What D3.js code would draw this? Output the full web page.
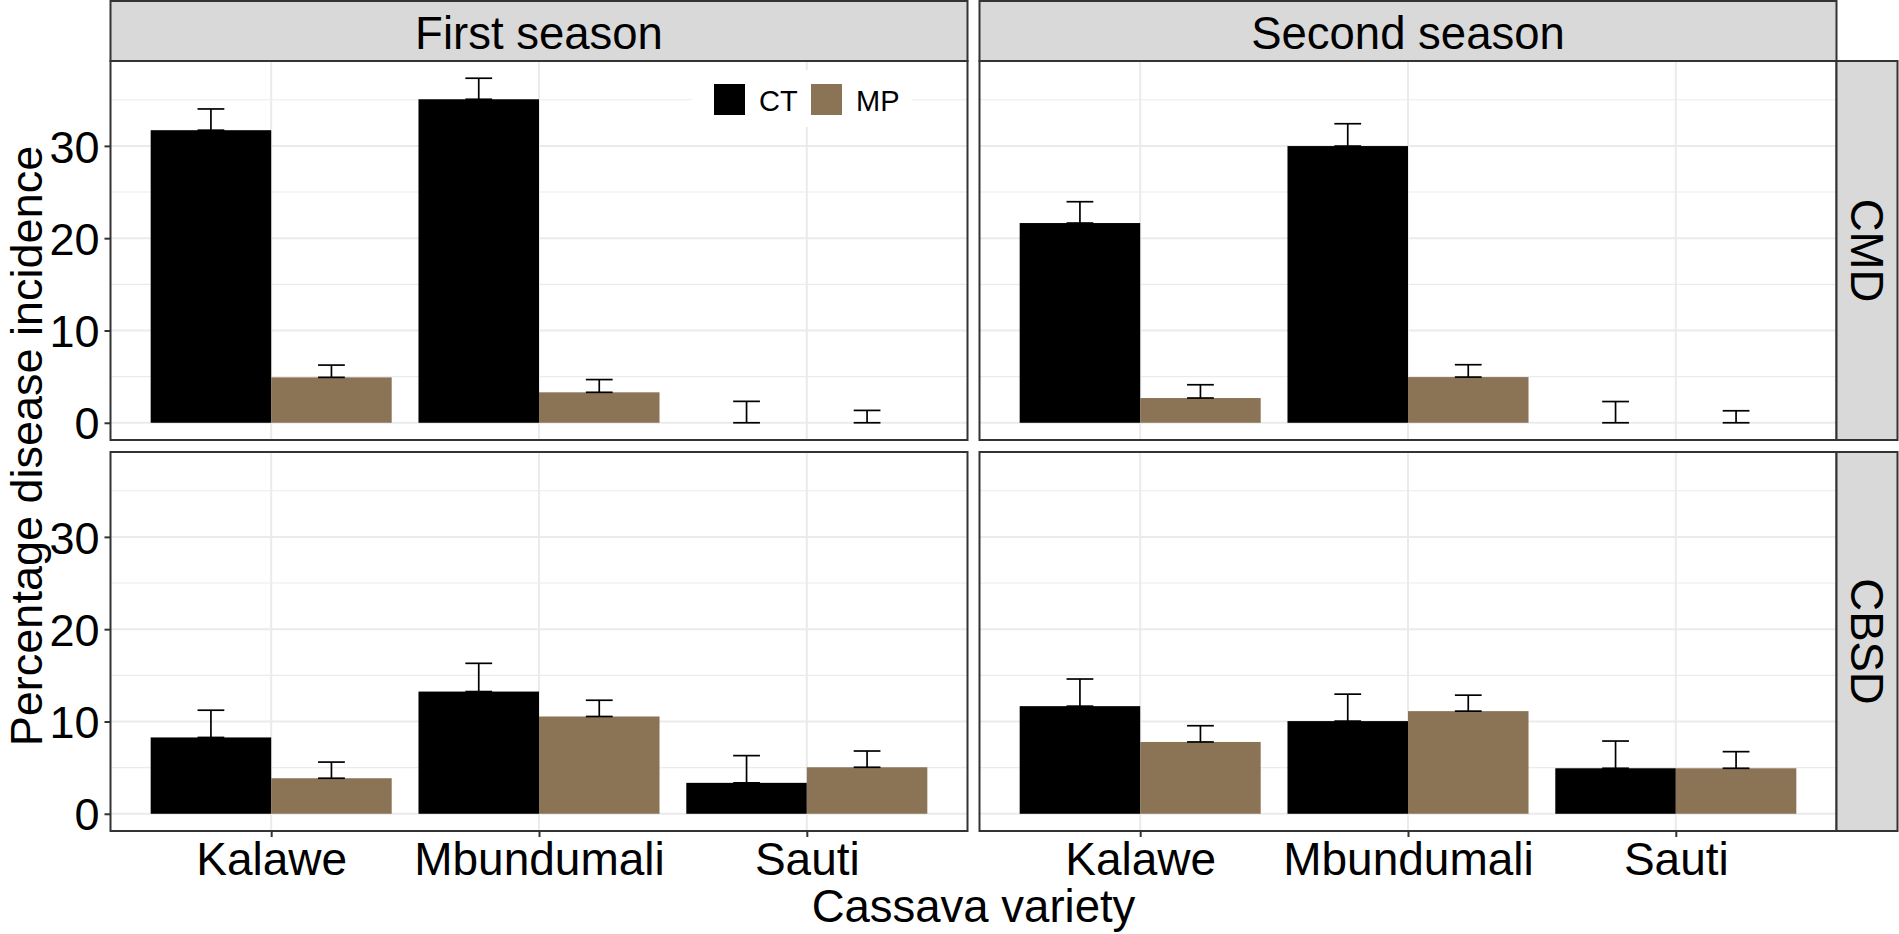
<!DOCTYPE html>
<html>
<head>
<meta charset="utf-8">
<script src="https://cdnjs.cloudflare.com/ajax/libs/d3/7.8.5/d3.min.js"></script>
<style>
    body { margin: 0; background: #ffffff; }
    text { font-family: "Liberation Sans", Arial, sans-serif; fill: #000000; }
</style>
</head>
<body>
<svg id="chart"></svg>
<script>
var varieties = ["Kalawe", "Mbundumali", "Sauti"];
var seasons = ["First season", "Second season"];
var diseases = ["CMD", "CBSD"];
var treatments = ["CT", "MP"];
var yTicks = [0, 10, 20, 30];
var yMinorTicks = [5, 15, 25, 35];

// mean incidence and standard error, one value per variety
var firstCmdCT = [31.7, 35.05, 0];
var firstCmdCTse = [2.3, 2.28, 2.32];
var firstCmdMP = [4.92, 3.3, 0];
var firstCmdMPse = [1.33, 1.38, 1.34];
var firstCbsdCT = [8.27, 13.24, 3.35];
var firstCbsdCTse = [2.95, 3.06, 2.95];
var firstCbsdMP = [3.85, 10.54, 5.04];
var firstCbsdMPse = [1.75, 1.76, 1.76];
var secondCmdCT = [21.64, 29.98, 0];
var secondCmdCTse = [2.31, 2.42, 2.3];
var secondCmdMP = [2.68, 4.95, 0];
var secondCmdMPse = [1.44, 1.34, 1.3];
var secondCbsdCT = [11.66, 10.04, 4.93];
var secondCbsdCTse = [2.94, 2.92, 2.95];
var secondCbsdMP = [7.78, 11.12, 4.93];
var secondCbsdMPse = [1.76, 1.73, 1.8];

var colors = d3.scaleOrdinal()
    .domain(treatments)
    .range(["#000000", "#8b7355"]);

var width = 1899,
    height = 934;

var colLeft = [110.5, 979.5],
    colRight = [967.5, 1836.5],
    rowTop = [61, 452],
    rowBottom = [440, 831];

function buildRows(season, disease, ct, ctse, mp, mpse) {
    var rows = [];
    varieties.forEach(function (v, i) {
        rows.push({ season: season, disease: disease, variety: v, treatment: "CT", mean: ct[i], se: ctse[i] });
        rows.push({ season: season, disease: disease, variety: v, treatment: "MP", mean: mp[i], se: mpse[i] });
    });
    return rows;
}

var panels = [
    { col: 0, row: 0, data: buildRows(seasons[0], diseases[0], firstCmdCT, firstCmdCTse, firstCmdMP, firstCmdMPse) },
    { col: 1, row: 0, data: buildRows(seasons[1], diseases[0], secondCmdCT, secondCmdCTse, secondCmdMP, secondCmdMPse) },
    { col: 0, row: 1, data: buildRows(seasons[0], diseases[1], firstCbsdCT, firstCbsdCTse, firstCbsdMP, firstCbsdMPse) },
    { col: 1, row: 1, data: buildRows(seasons[1], diseases[1], secondCbsdCT, secondCbsdCTse, secondCbsdMP, secondCbsdMPse) }
];

var allRows = [].concat.apply([], panels.map(function (p) { return p.data; }));
var yMax = d3.max(allRows, function (d) { return d.mean + d.se; });
var yPad = yMax * 0.05;

var svg = d3.select("svg#chart")
    .attr("width", width)
    .attr("height", height);

panels.forEach(function (p) {
    var x = d3.scalePoint()
        .domain(varieties)
        .range([colLeft[p.col], colRight[p.col]])
        .padding(0.6);
    var step = x.step();
    var dodge = d3.scaleBand()
        .domain(treatments)
        .range([-0.45 * step, 0.45 * step]);
    var y = d3.scaleLinear()
        .domain([-yPad, yMax + yPad])
        .range([rowBottom[p.row], rowTop[p.row]]);

    var g = svg.append("g");

    g.selectAll("line.minor")
        .data(yMinorTicks)
        .enter()
        .append("line")
        .attr("x1", colLeft[p.col])
        .attr("x2", colRight[p.col])
        .attr("y1", function (d) { return y(d); })
        .attr("y2", function (d) { return y(d); })
        .attr("stroke", "#ebebeb")
        .attr("stroke-width", 1.1);

    g.selectAll("line.major")
        .data(yTicks)
        .enter()
        .append("line")
        .attr("x1", colLeft[p.col])
        .attr("x2", colRight[p.col])
        .attr("y1", function (d) { return y(d); })
        .attr("y2", function (d) { return y(d); })
        .attr("stroke", "#ebebeb")
        .attr("stroke-width", 2);

    g.selectAll("line.vmajor")
        .data(varieties)
        .enter()
        .append("line")
        .attr("x1", function (d) { return x(d); })
        .attr("x2", function (d) { return x(d); })
        .attr("y1", rowTop[p.row])
        .attr("y2", rowBottom[p.row])
        .attr("stroke", "#ebebeb")
        .attr("stroke-width", 2);

    g.selectAll("rect.bar")
        .data(p.data)
        .enter()
        .append("rect")
        .attr("x", function (d) { return x(d.variety) + dodge(d.treatment); })
        .attr("width", dodge.bandwidth())
        .attr("y", function (d) { return y(d.mean); })
        .attr("height", function (d) { return y(0) - y(d.mean); })
        .attr("fill", function (d) { return colors(d.treatment); });

    var errW = 0.1 * step;
    var eb = g.selectAll("g.err")
        .data(p.data)
        .enter()
        .append("g")
        .attr("stroke", "#000000")
        .attr("stroke-width", 1.7);
    eb.append("line")
        .attr("x1", function (d) { return x(d.variety) + dodge(d.treatment) + dodge.bandwidth() / 2; })
        .attr("x2", function (d) { return x(d.variety) + dodge(d.treatment) + dodge.bandwidth() / 2; })
        .attr("y1", function (d) { return y(d.mean); })
        .attr("y2", function (d) { return y(d.mean + d.se); });
    eb.append("line")
        .attr("x1", function (d) { return x(d.variety) + dodge(d.treatment) + dodge.bandwidth() / 2 - errW / 2; })
        .attr("x2", function (d) { return x(d.variety) + dodge(d.treatment) + dodge.bandwidth() / 2 + errW / 2; })
        .attr("y1", function (d) { return y(d.mean + d.se); })
        .attr("y2", function (d) { return y(d.mean + d.se); });
    eb.append("line")
        .attr("x1", function (d) { return x(d.variety) + dodge(d.treatment) + dodge.bandwidth() / 2 - errW / 2; })
        .attr("x2", function (d) { return x(d.variety) + dodge(d.treatment) + dodge.bandwidth() / 2 + errW / 2; })
        .attr("y1", function (d) { return y(d.mean); })
        .attr("y2", function (d) { return y(d.mean); });

    g.append("rect")
        .attr("x", colLeft[p.col])
        .attr("y", rowTop[p.row])
        .attr("width", colRight[p.col] - colLeft[p.col])
        .attr("height", rowBottom[p.row] - rowTop[p.row])
        .attr("fill", "none")
        .attr("stroke", "#333333")
        .attr("stroke-width", 2);

    if (p.col === 0) {
        var yAxis = g.append("g")
            .attr("transform", "translate(" + colLeft[p.col] + ",0)")
            .call(d3.axisLeft(y).tickValues(yTicks).tickSize(6).tickPadding(5));
        yAxis.select(".domain").remove();
        yAxis.selectAll(".tick line").attr("stroke", "#333333").attr("stroke-width", 2);
        yAxis.selectAll(".tick text")
            .attr("fill", "#000000")
            .style("font-size", "45px")
            .style("font-family", "'Liberation Sans', Arial, sans-serif")
            .attr("dy", "0.36em");
    }

    if (p.row === 1) {
        var xAxis = g.append("g")
            .attr("transform", "translate(0," + rowBottom[p.row] + ")")
            .call(d3.axisBottom(x).tickSize(6).tickPadding(8));
        xAxis.select(".domain").remove();
        xAxis.selectAll(".tick line").attr("stroke", "#333333").attr("stroke-width", 2);
        xAxis.selectAll(".tick text")
            .attr("fill", "#000000")
            .style("font-size", "46px")
            .style("font-family", "'Liberation Sans', Arial, sans-serif")
            .attr("y", 0)
            .attr("dy", 0)
            .attr("transform", "translate(0,44)");
    }
});

// season strips on top
seasons.forEach(function (s, i) {
    svg.append("rect")
        .attr("x", colLeft[i])
        .attr("y", 1)
        .attr("width", colRight[i] - colLeft[i])
        .attr("height", rowTop[0] - 1)
        .attr("fill", "#d9d9d9")
        .attr("stroke", "#333333")
        .attr("stroke-width", 2);
    svg.append("text")
        .attr("x", (colLeft[i] + colRight[i]) / 2)
        .attr("y", 48.5)
        .attr("text-anchor", "middle")
        .style("font-size", "45.5px")
        .text(s);
});

// disease strips on the right
diseases.forEach(function (dz, i) {
    var cx = colRight[1] + 30.5;
    var cy = (rowTop[i] + rowBottom[i]) / 2;
    svg.append("rect")
        .attr("x", colRight[1])
        .attr("y", rowTop[i])
        .attr("width", 61)
        .attr("height", rowBottom[i] - rowTop[i])
        .attr("fill", "#d9d9d9")
        .attr("stroke", "#333333")
        .attr("stroke-width", 2);
    svg.append("text")
        .attr("transform", "translate(" + cx + "," + cy + ") rotate(90)")
        .attr("text-anchor", "middle")
        .attr("dy", "0.36em")
        .style("font-size", "45.5px")
        .text(dz);
});

// legend
var legend = svg.append("g");
legend.append("rect")
    .attr("x", 692)
    .attr("y", 70)
    .attr("width", 220)
    .attr("height", 57)
    .attr("fill", "#ffffff");
var keyX = [714, 811];
treatments.forEach(function (t, i) {
    legend.append("rect")
        .attr("x", keyX[i])
        .attr("y", 84)
        .attr("width", 31)
        .attr("height", 31)
        .attr("fill", colors(t));
    legend.append("text")
        .attr("x", keyX[i] + 45)
        .attr("y", 111)
        .style("font-size", "29px")
        .text(t);
});

svg.append("text")
    .attr("x", (colLeft[0] + colRight[1]) / 2)
    .attr("y", 922)
    .attr("text-anchor", "middle")
    .style("font-size", "45.5px")
    .text("Cassava variety");

svg.append("text")
    .attr("transform", "translate(42," + (rowTop[0] + rowBottom[1]) / 2 + ") rotate(-90)")
    .attr("text-anchor", "middle")
    .style("font-size", "45px")
    .text("Percentage disease incidence");
</script>
</body>
</html>
